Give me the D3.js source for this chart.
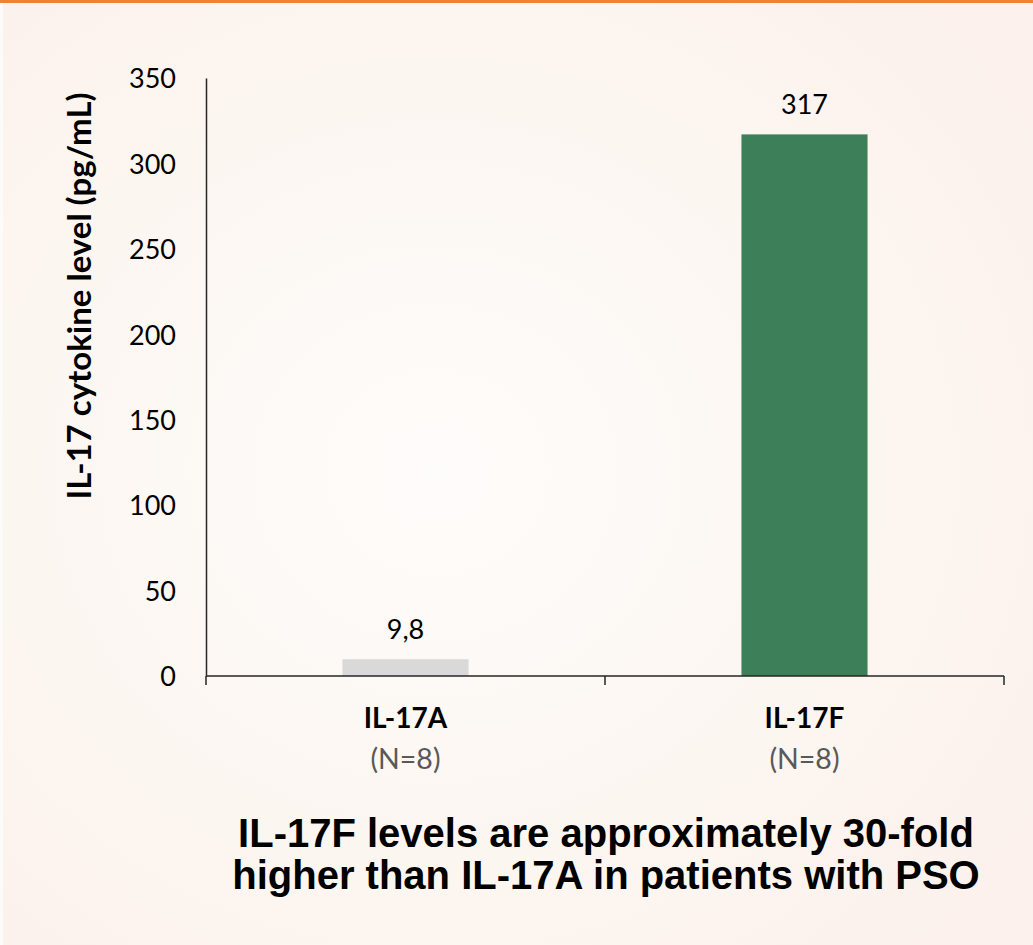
<!DOCTYPE html>
<html>
<head>
<meta charset="utf-8">
<script src="https://cdn.jsdelivr.net/npm/d3@7"></script>
<style>
  html, body { margin: 0; padding: 0; background: #ffffff; }
  svg { display: block; }
</style>
</head>
<body>
<svg id="chart" width="1033" height="945"></svg>
<script>
// Cytokine levels by group
const categories = ["IL-17A", "IL-17F"];
const groupSizes = ["(N=8)", "(N=8)"];
const values = [9.8, 317];
const valueLabels = ["9,8", "317"];
const barColors = ["#d9d9d9", "#3d7f59"];
const yTicks = [0, 50, 100, 150, 200, 250, 300, 350];
const yTitle = "IL-17 cytokine level (pg/mL)";
const captionLines = [
  "IL-17F levels are approximately 30-fold",
  "higher than IL-17A in patients with PSO"
];

const W = 1033, H = 945;
const svg = d3.select("#chart");

// Background: soft cream panel with a lighter centre, orange top rule
const defs = svg.append("defs");
const grad = defs.append("radialGradient")
  .attr("id", "bg").attr("cx", "42%").attr("cy", "50%").attr("r", "70%");
grad.append("stop").attr("offset", "0%").attr("stop-color", "#fefcfa");
grad.append("stop").attr("offset", "60%").attr("stop-color", "#fcf6f1");
grad.append("stop").attr("offset", "100%").attr("stop-color", "#fcf1ec");
svg.append("rect").attr("x", 0).attr("y", 0).attr("width", W).attr("height", H).attr("fill", "#fdfbfa");
svg.append("rect").attr("x", 3).attr("y", 0).attr("width", W - 3).attr("height", H).attr("fill", "url(#bg)");
svg.append("rect").attr("x", 0).attr("y", 0).attr("width", W).attr("height", 3).attr("fill", "#f28232");

const plot = { left: 206, right: 1004, top: 78, bottom: 676 };

const x = d3.scaleBand().domain(categories).range([plot.left, plot.right]).paddingInner(0).paddingOuter(0);
const y = d3.scaleLinear().domain([0, 350]).range([plot.bottom, plot.top]);

const barFrac = 0.316;
const bw = x.bandwidth() * barFrac;

const labelFont = "Lato, 'Open Sans', sans-serif";

// Bars
svg.append("g").selectAll("rect")
  .data(categories)
  .join("rect")
  .attr("x", (d) => x(d) + (x.bandwidth() - bw) / 2)
  .attr("y", (d, i) => y(values[i]))
  .attr("width", bw)
  .attr("height", (d, i) => y(0) - y(values[i]))
  .attr("fill", (d, i) => barColors[i]);

// Value labels
svg.append("g").selectAll("text")
  .data(categories)
  .join("text")
  .attr("x", (d) => x(d) + x.bandwidth() / 2)
  .attr("y", (d, i) => y(values[i]) - 20)
  .attr("text-anchor", "middle")
  .attr("font-family", labelFont)
  .attr("font-size", 27)
  .attr("fill", "#000")
  .text((d, i) => valueLabels[i]);

// Y axis: line only, labels on the left
const yAxis = d3.axisLeft(y).tickValues(yTicks).tickSize(0).tickPadding(30);
const gy = svg.append("g").attr("transform", `translate(${plot.left},0)`).call(yAxis);
gy.select(".domain").attr("stroke", "#262626").attr("stroke-width", 1.5);
gy.selectAll("text")
  .attr("font-family", labelFont)
  .attr("font-size", 27)
  .attr("fill", "#000")
  .attr("dy", "0.36em");

// X axis: baseline with ticks at category boundaries
const gx = svg.append("g").attr("transform", `translate(0,${plot.bottom})`);
gx.append("line")
  .attr("x1", plot.left).attr("x2", plot.right)
  .attr("stroke", "#262626").attr("stroke-width", 1.5);
const boundaries = categories.map((d) => x(d)).concat([x(categories[categories.length - 1]) + x.bandwidth()]);
gx.selectAll("line.tick")
  .data(boundaries)
  .join("line")
  .attr("class", "tick")
  .attr("x1", (d) => d).attr("x2", (d) => d)
  .attr("y1", 0).attr("y2", 9)
  .attr("stroke", "#262626").attr("stroke-width", 1.5);

// Category labels
gx.selectAll("text.cat")
  .data(categories)
  .join("text")
  .attr("class", "cat")
  .attr("x", (d) => x(d) + x.bandwidth() / 2)
  .attr("y", 52)
  .attr("text-anchor", "middle")
  .attr("font-family", labelFont)
  .attr("font-weight", "bold")
  .attr("font-size", 28)
  .attr("fill", "#000")
  .text((d) => d);

gx.selectAll("text.n")
  .data(categories)
  .join("text")
  .attr("class", "n")
  .attr("x", (d) => x(d) + x.bandwidth() / 2)
  .attr("y", 93)
  .attr("text-anchor", "middle")
  .attr("font-family", labelFont)
  .attr("font-size", 28.5)
  .attr("fill", "#595959")
  .text((d, i) => groupSizes[i]);

// Y axis title
svg.append("text")
  .attr("transform", `translate(91,296) rotate(-90)`)
  .attr("text-anchor", "middle")
  .attr("font-family", labelFont)
  .attr("font-weight", "bold")
  .attr("font-size", 33)
  .attr("fill", "#000")
  .text(yTitle);

// Caption
svg.append("g").selectAll("text")
  .data(captionLines)
  .join("text")
  .attr("x", 606)
  .attr("y", (d, i) => 847 + i * 42)
  .attr("text-anchor", "middle")
  .attr("font-family", "'Liberation Sans', Arial, sans-serif")
  .attr("font-weight", "bold")
  .attr("font-size", 40)
  .attr("fill", "#000")
  .text((d) => d);
</script>
</body>
</html>
